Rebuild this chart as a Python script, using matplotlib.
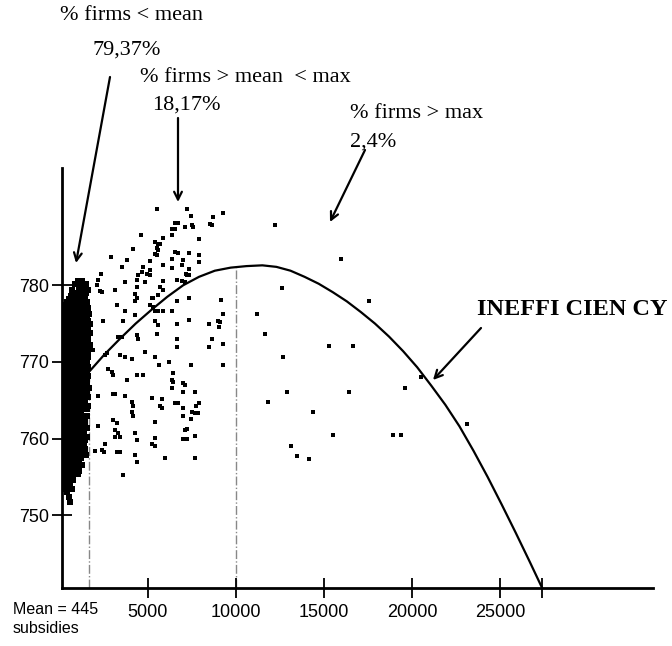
import matplotlib
matplotlib.use("Agg")
import matplotlib.pyplot as plt

# ---------------- data ----------------
x_ticks = [5000, 10000, 15000, 20000, 25000, 27400]
x_tick_labels = ["5000", "10000", "15000", "20000", "25000", ""]
y_ticks = [750, 760, 770, 780]
y_tick_labels = ["750", "760", "770", "780"]

mean_x = 1650
max_x = 10000
max_y = 782.4

# inefficiency frontier
curve_x = [1650, 2500, 3400, 4300, 5200, 6100, 7000, 7900, 8800, 9700, 10600, 11500,
           12300, 13100, 13900, 14700, 15500, 16300, 17100, 17900, 18700, 19500, 20300,
           21100, 21900, 22700, 23500, 24300, 25100, 25900, 26700, 27400]
curve_y = [768.7, 770.9, 773.0, 775.0, 776.8, 778.5, 780.0, 781.1, 781.9, 782.3, 782.5, 782.6,
           782.4, 781.9, 781.1, 780.2, 779.1, 777.9, 776.5, 775.0, 773.3, 771.4, 769.3,
           766.9, 764.4, 761.6, 758.4, 755.0, 751.4, 747.7, 743.9, 740.5]

# firms below the mean (dense cluster), rows of (y, [x ...])
cluster_rows = [
    (780.6, [1000, 1250]),
    (780.2, [850, 1500]),
    (779.8, [1100, 1350]),
    (779.4, [700, 1250, 1600]),
    (779.0, [950, 1450]),
    (778.6, [650, 1100, 1400]),
    (778.2, [500, 900, 1300]),
    (777.8, [400, 750, 1000, 1550]),
    (777.4, [300, 600, 900, 1200, 1450]),
    (777.0, [200, 500, 800, 1100, 1350, 1600]),
    (776.6, [150, 400, 650, 950, 1250, 1500]),
    (776.2, [150, 320, 490, 760, 1000, 1170, 1420, 1650]),
    (775.8, [230, 400, 660, 830, 1080, 1340, 1510]),
    (775.4, [150, 320, 490, 660, 900, 1170, 1340, 1600]),
    (775.0, [150, 400, 570, 830, 1000, 1250, 1420, 1680]),
    (774.6, [230, 490, 660, 830, 1080, 1250, 1510]),
    (774.2, [150, 320, 570, 740, 1000, 1170, 1340, 1600]),
    (773.8, [150, 400, 660, 830, 1000, 1250, 1510, 1680]),
    (773.4, [230, 490, 740, 910, 1170, 1420, 1600]),
    (773.0, [150, 320, 570, 830, 1000, 1250, 1510]),
    (772.6, [150, 400, 660, 910, 1080, 1340, 1600]),
    (772.2, [230, 490, 740, 1000, 1170, 1420, 1680]),
    (771.8, [150, 320, 570, 830, 1080, 1250, 1510]),
    (771.4, [150, 400, 660, 910, 1170, 1340, 1600]),
    (771.0, [230, 490, 740, 1000, 1250, 1510]),
    (770.6, [150, 320, 570, 830, 1080, 1340, 1600]),
    (770.2, [150, 400, 660, 910, 1170, 1420]),
    (769.8, [230, 490, 740, 1000, 1250, 1510]),
    (769.4, [150, 320, 570, 830, 1080, 1340, 1600]),
    (769.0, [150, 400, 660, 910, 1170, 1420]),
    (768.6, [230, 490, 740, 1000, 1250, 1510]),
    (768.2, [150, 320, 570, 830, 1080, 1340, 1600]),
    (767.8, [150, 400, 660, 910, 1170, 1420]),
    (767.4, [230, 490, 740, 1000, 1250, 1510]),
    (767.0, [150, 320, 570, 830, 1080, 1340]),
    (766.6, [150, 400, 660, 910, 1170, 1420, 1650]),
    (766.2, [230, 490, 740, 1000, 1250, 1510]),
    (765.8, [150, 400, 660, 910, 1170, 1420]),
    (765.4, [150, 320, 570, 830, 1080, 1340, 1600]),
    (765.0, [230, 490, 740, 1000, 1250]),
    (764.6, [150, 400, 660, 910, 1170, 1420]),
    (764.2, [150, 320, 570, 830, 1080, 1340, 1600]),
    (763.8, [230, 490, 740, 1000, 1250, 1510]),
    (763.4, [150, 400, 660, 910, 1170]),
    (763.0, [150, 320, 570, 830, 1080, 1340, 1560]),
    (762.6, [230, 490, 740, 1000, 1250]),
    (762.2, [150, 400, 660, 910, 1170, 1420]),
    (761.8, [150, 320, 570, 830, 1080, 1340]),
    (761.4, [230, 490, 740, 1000, 1250, 1510]),
    (761.0, [150, 400, 660, 910, 1170]),
    (760.6, [150, 320, 570, 830, 1080, 1340]),
    (760.2, [230, 490, 740, 1000, 1250, 1510]),
    (759.8, [150, 400, 660, 910, 1170, 1420]),
    (759.4, [150, 320, 570, 830, 1080, 1340]),
    (759.0, [230, 490, 740, 1000, 1250]),
    (758.6, [150, 400, 660, 910, 1170, 1420]),
    (758.2, [150, 320, 570, 830, 1080, 1340]),
    (757.8, [230, 490, 740, 1000, 1250, 1450]),
    (757.4, [150, 400, 660, 910, 1170]),
    (757.0, [150, 320, 570, 830, 1080]),
    (756.6, [230, 490, 740, 1000, 1250]),
    (756.2, [150, 400, 660, 910]),
    (755.8, [150, 320, 570, 830, 1080]),
    (755.4, [230, 490, 740, 1000]),
    (755.0, [150, 400, 660]),
    (754.6, [150, 490, 740]),
    (754.2, [230, 570]),
    (753.8, [150, 400]),
    (753.4, [320, 660]),
    (753.0, [400]),
    (752.4, [490]),
    (751.7, [570]),
]

# firms between the mean and the max
mid_x = [2896, 4165, 3786, 3502, 2328, 2177, 2082, 2272, 2366, 3123, 3691, 4354, 4354,
         4449, 4732, 4638, 4922, 4827, 4259, 4354, 4259, 3218, 3691, 2461, 3597, 4259,
         4354, 4449, 3313, 3502, 4827, 1893, 2650, 2556, 3408, 3691, 4070, 2745, 2934,
         3029, 3786, 4354, 4732, 2177, 3029, 3123, 3691, 4070, 4165, 4070, 4165, 2177,
         3029, 3218, 3123, 3313, 3408, 3123, 4259, 4354, 2556, 2366, 2518, 1988, 3218,
         3408, 4259, 4354, 3597, 4600,
         5528, 7232, 7422, 8709, 9277, 8519, 8614, 6532, 6721, 6342, 6532, 7100, 7478,
         7573, 6342, 5869, 7914, 5396, 5585, 5680, 5491, 5585, 5396, 5491, 6532, 6721,
         7346, 7914, 7914, 7005, 6910, 5869, 6342, 6342, 5112, 5112, 5112, 7346, 7156,
         7232, 7346, 6664, 6910, 7100, 5869, 5680, 5869, 5207, 5301, 5585, 5112, 5301,
         5396, 5585, 5869, 6342, 7346, 9125, 9277, 6626, 6626, 7346, 8482, 8993, 9087,
         9049, 5396, 5585, 5491, 6626, 6626, 8614, 8482, 9277, 5396, 5642, 6210, 7422,
         9277, 6437, 6342, 6437, 7005, 7100, 6342, 7005, 7668, 5207, 5775, 5680, 5775,
         6532, 6721, 7005, 7914, 7724, 7478, 7668, 7857, 7005, 7422, 5396, 7100, 7195,
         7005, 7232, 7668, 5396, 5207, 5396, 5964, 7668]
mid_y = [783.7, 784.7, 783.3, 782.4, 781.5, 780.7, 780.0, 779.3, 779.1, 779.4, 780.4, 780.7, 779.8,
         781.3, 782.4, 781.7, 781.5, 780.4, 778.9, 778.3, 778.0, 777.4, 776.7, 775.4, 775.4, 776.1,
         773.5, 773.0, 773.3, 773.3, 771.3, 771.6, 771.1, 770.9, 770.9, 770.6, 770.4, 769.1, 768.7,
         768.3, 767.7, 768.3, 768.3, 765.6, 765.8, 765.8, 765.6, 764.8, 764.3, 763.5, 763.0, 761.7,
         762.4, 762.0, 761.1, 760.7, 760.2, 760.2, 760.7, 759.8, 759.3, 758.5, 758.2, 758.4, 758.2,
         758.2, 757.8, 756.9, 755.2, 786.5,
         789.9, 789.9, 789.1, 788.9, 789.4, 788.0, 787.8, 788.1, 788.1, 787.3, 787.3, 787.6, 787.8,
         787.6, 786.5, 786.2, 786.0, 785.7, 785.4, 785.4, 784.8, 784.6, 784.1, 783.9, 784.4, 784.2,
         784.2, 783.9, 783.1, 783.3, 782.6, 782.6, 783.4, 782.3, 783.2, 782.0, 781.3, 782.1, 781.5,
         781.3, 781.3, 780.7, 780.6, 780.4, 780.6, 779.8, 779.4, 778.4, 778.4, 778.7, 777.4, 777.2,
         776.7, 776.7, 776.7, 776.7, 778.4, 778.1, 776.3, 777.9, 775.0, 775.5, 775.0, 775.4, 775.2,
         774.6, 775.3, 774.8, 773.7, 773.0, 772.0, 773.0, 772.0, 772.4, 770.7, 769.6, 770.0, 769.6,
         769.6, 768.5, 767.6, 767.4, 767.2, 767.0, 766.6, 766.1, 766.1, 765.3, 765.1, 764.3, 764.0,
         764.6, 764.6, 764.0, 764.6, 764.2, 763.5, 763.3, 763.3, 763.0, 762.5, 762.2, 761.1, 761.2,
         759.9, 759.9, 760.3, 760.1, 759.3, 759.0, 757.5, 757.5]

# firms above the max
high_x = [11207, 11643, 11832, 12212, 15960, 12590, 17569, 15297, 16660, 12685, 19632,
          20541, 12912, 16433, 14389, 15524, 18932, 19386, 13120, 13480, 14161, 23134]
high_y = [776.3, 773.7, 764.8, 787.8, 783.4, 779.7, 777.9, 772.1, 772.1, 770.6, 766.6,
          768.0, 766.1, 766.1, 763.5, 760.4, 760.4, 760.4, 759.0, 757.7, 757.3, 761.9]

cluster_x = []
cluster_y = []
for yv, xs in cluster_rows:
    for xv in xs:
        cluster_x.append(xv)
        cluster_y.append(yv)

# ---------------- figure ----------------
W, H = 672, 646
fig = plt.figure(figsize=(W / 100, H / 100), dpi=100)
ax = fig.add_axes([62 / W, 1 - 588 / H, (653 - 62) / W, (588 - 168) / H])
ax.set_xlim(114, 33700)
ax.set_ylim(740.5, 795.3)

for s in ["top", "right"]:
    ax.spines[s].set_visible(False)
ax.spines["left"].set_linewidth(2.0)
ax.spines["bottom"].set_linewidth(2.0)

ax.set_xticks(x_ticks)
ax.set_xticklabels(x_tick_labels)
ax.set_yticks(y_ticks)
ax.set_yticklabels(y_tick_labels)
ax.tick_params(axis="both", direction="inout", length=15, width=1.3, color="black")
ax.tick_params(axis="x", pad=4)
ax.tick_params(axis="y", pad=2)
for lab in ax.get_xticklabels() + ax.get_yticklabels():
    lab.set_fontfamily("Liberation Sans")
    lab.set_fontsize(13)

# dash-dot reference lines
ax.plot([mean_x, mean_x], [740.5, curve_y[0]], color="#888888", lw=1.0, ls="-.", zorder=1)
ax.plot([max_x, max_x], [740.5, max_y], color="#888888", lw=1.0, ls="-.", zorder=1)

# dots
ax.scatter(cluster_x, cluster_y, marker="s", s=13.0, c="black", linewidths=0, zorder=3)
mk = dict(marker="s", s=5.5, c="black", linewidths=0, zorder=3)
ax.scatter(mid_x, mid_y, **mk)
ax.scatter(high_x, high_y, **mk)

# frontier curve
ax.plot(curve_x, curve_y, color="black", lw=1.6, zorder=4, solid_capstyle="round",
        solid_joinstyle="round")


def fp(px, py):
    return (px / W, 1 - py / H)


serif = "Liberation Serif"
tkw = dict(fontfamily=serif, fontsize=16, ha="left", va="top", transform=fig.transFigure)
fig.text(*fp(60, 6), "% firms < mean", **tkw)
fig.text(*fp(92, 41), "79,37%", **tkw)
fig.text(*fp(140, 68), "% firms > mean  < max", **tkw)
fig.text(*fp(152, 96), "18,17%", **tkw)
fig.text(*fp(350, 104), "% firms > max", **tkw)
fig.text(*fp(350, 133), "2,4%", **tkw)
fig.text(*fp(477, 299), "INEFFI CIEN CY", fontfamily=serif, fontsize=17.5,
         fontweight="bold", ha="left", va="top", transform=fig.transFigure)
fig.text(*fp(13, 602), "Mean = 445\nsubsidies", fontfamily="Liberation Sans",
         fontsize=11.5, ha="left", va="top", linespacing=1.35, transform=fig.transFigure)

akw = dict(arrowstyle="->", lw=1.6, color="black", mutation_scale=14, shrinkA=0, shrinkB=0)
for (sx, sy), (tx, ty) in [((110, 77), (76, 263)), ((178, 118), (178, 202)),
                           ((365, 150), (330, 222)), ((481, 328), (433, 380))]:
    ax.annotate("", xy=fp(tx, ty), xycoords="figure fraction",
                xytext=fp(sx, sy), textcoords="figure fraction", arrowprops=akw)

fig.savefig("out.png", dpi=100)
